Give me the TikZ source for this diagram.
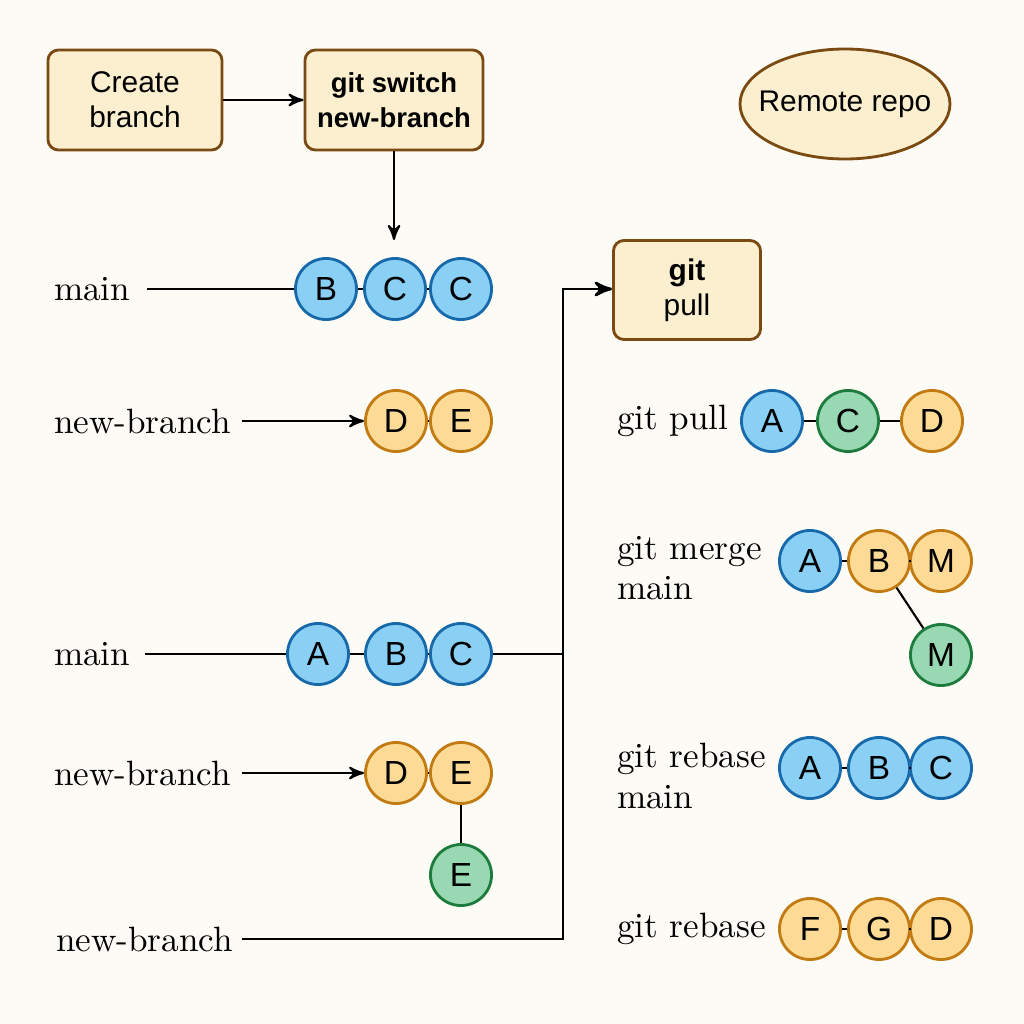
\documentclass[tikz,border=0pt]{standalone}
\usepackage{fontspec}
\setsansfont{Liberation Sans}
\usepackage{xcolor}
\usepackage{tikz}
\usetikzlibrary{shapes,arrows,positioning,calc}

\definecolor{bgcol}{HTML}{FDFBF6}
\definecolor{boxfill}{HTML}{FCEFCF}
\definecolor{boxline}{HTML}{7B4A12}
\definecolor{bluefill}{HTML}{8AD0F5}
\definecolor{blueline}{HTML}{1769AA}
\definecolor{orfill}{HTML}{FDDB96}
\definecolor{orline}{HTML}{C27A12}
\definecolor{grfill}{HTML}{98D9B3}
\definecolor{grline}{HTML}{1E7B3E}

\begin{document}
\begin{tikzpicture}[x=0.01cm, y=-0.01cm, >=stealth', line width=0.6pt,
    box/.style={draw=boxline, fill=boxfill, line width=0.8pt, rounded corners=3pt,
        font=\sffamily\fontsize{8.5}{10}\selectfont, align=center, inner sep=0pt},
    commit/.style={circle, minimum size=0.61cm, inner sep=0pt, line width=0.8pt,
        font=\sffamily\fontsize{9.5}{10}\selectfont},
    bc/.style={commit, draw=blueline, fill=bluefill},
    oc/.style={commit, draw=orline, fill=orfill},
    gc/.style={commit, draw=grline, fill=grfill},
    lbl/.style={font=\fontsize{10}{11.5}\selectfont, align=left, inner sep=0pt}]

    \fill[bgcol] (0,0) rectangle (1024,1024);
    \useasboundingbox (0,0) rectangle (1024,1024);

    % top boxes
    \node[box, minimum width=1.74cm, minimum height=1.0cm] (create) at (135,100) {Create\\branch};
    \node[box, minimum width=1.78cm, minimum height=1.0cm,
        font=\sffamily\bfseries\fontsize{7.8}{10}\selectfont] (switch) at (394,100) {git switch\\new-branch};
    \draw[draw=boxline, fill=boxfill, line width=0.8pt] (845,104) ellipse [x radius=105, y radius=55];
    \node[font=\sffamily\fontsize{8.5}{10}\selectfont] (remote) at (845,104) {Remote repo};
    \draw[->] (create) -- (switch);
    \coordinate (switchend) at (394,240);
    \draw[->] (switch) -- (switchend);

    % first main / new-branch
    \node[lbl, anchor=west] (main1) at (53,289) {main};
    \coordinate (main1s) at (147,289);
    \node[bc] (b1) at (326,289) {B};
    \node[bc] (c1) at (395,289) {C};
    \node[bc] (c1b) at (461,289) {C};
    \draw (main1s) -- (b1) -- (c1) -- (c1b);

    \node[lbl, anchor=west] (nb1) at (53,421) {new-branch};
    \coordinate (nb1s) at (242,421);
    \node[oc] (d1) at (396,421) {D};
    \node[oc] (e1) at (461,421) {E};
    \draw[->] (nb1s) -- (d1);
    \draw (d1) -- (e1);

    % second main / new-branch
    \node[lbl, anchor=west] (main2) at (53,654) {main};
    \coordinate (main2s) at (145,654);
    \node[bc] (a2) at (318,654) {A};
    \node[bc] (b2) at (396,654) {B};
    \node[bc] (c2) at (461,654) {C};
    \coordinate (join) at (563,654);
    \draw (main2s) -- (a2) -- (b2) -- (c2) -- (join);

    \node[lbl, anchor=west] (nb2) at (53,773) {new-branch};
    \coordinate (nb2s) at (242,773);
    \node[oc] (d2) at (396,773) {D};
    \node[oc] (e2) at (461,773) {E};
    \node[gc] (e3) at (461,875) {E};
    \draw[->] (nb2s) -- (d2);
    \draw (d2) -- (e2) -- (e3);

    \node[lbl, anchor=west] (nb3) at (55,939) {new-branch};
    \coordinate (nb3s) at (242,939);
    \coordinate (turn) at (563,939);
    \coordinate (top) at (563,289);

    % git pull box
    \node[box, minimum width=1.47cm, minimum height=0.99cm] (pull) at (687,290) {\bfseries git\\pull};
    \draw[line width=0.8pt, ->] (nb3s) -- (turn) -- (top) -- (pull.west |- top);

    % right column
    \node[lbl, anchor=west] (pulllbl) at (616,421) {git pull};
    \node[bc] (a3) at (772,421) {A};
    \node[gc] (c3) at (848,421) {C};
    \node[oc] (d3) at (932,421) {D};
    \draw (a3) -- (c3) -- (d3);

    \node[lbl, anchor=west] (mergelbl) at (616,568) {git merge\\main};
    \node[bc] (a4) at (810,561) {A};
    \node[oc] (b4) at (879,561) {B};
    \node[oc] (m4) at (941,561) {M};
    \node[gc] (m5) at (941,655) {M};
    \draw (a4) -- (b4) -- (m4);
    \draw (b4) -- (m5);

    \node[lbl, anchor=west] (rebaselbl) at (616,776) {git rebase\\main};
    \node[bc] (a5) at (810,768) {A};
    \node[bc] (b5) at (879,768) {B};
    \node[bc] (c5) at (941,768) {C};
    \draw (a5) -- (b5) -- (c5);

    \node[lbl, anchor=west] (rebase2lbl) at (616,929) {git rebase};
    \node[oc] (f6) at (810,929) {F};
    \node[oc] (g6) at (879,929) {G};
    \node[oc] (d6) at (941,929) {D};
    \draw (f6) -- (g6) -- (d6);
\end{tikzpicture}
\end{document}
